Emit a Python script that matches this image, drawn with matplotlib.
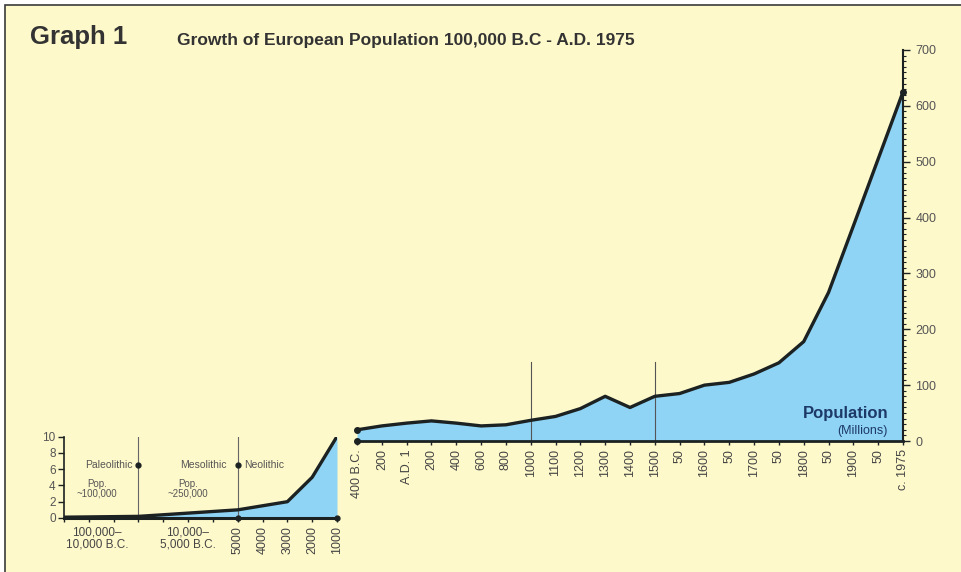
import numpy as np
import matplotlib
matplotlib.use("Agg")
import matplotlib.pyplot as plt
from matplotlib.patches import Rectangle
from matplotlib.ticker import MultipleLocator

plt.rcParams['font.family'] = ['Liberation Sans', 'DejaVu Sans']

# main chart: 400 B.C. - 1975, population in millions
main_labels = ["400 B.C.", "200", "A.D. 1", "200", "400", "600", "800", "1000",
               "1100", "1200", "1300", "1400", "1500", "50", "1600", "50",
               "1700", "50", "1800", "50", "1900", "50", "c. 1975"]
main_pop = [20, 27, 32, 36, 32, 27, 29, 37, 44, 58, 80, 60, 80, 85,
            100, 105, 120, 140, 178, 266, 385, 505, 625]
main_marks = ["1000", "1500"]

# prehistoric inset: year (negative = B.C.), population in millions
early_years = [-100000, -10000, -5000, -4000, -3000, -2000, -1000]
early_pop = [0.1, 0.2, 1.0, 1.5, 2.0, 5.0, 10.0]
early_ticks = ["5000", "4000", "3000", "2000", "1000"]

BG = '#fef9ca'
FILL = '#8fd3f5'
LINE = '#1c2222'
TXT = '#555555'

fig = plt.figure(figsize=(9.62, 5.72), dpi=100)
fig.patch.set_facecolor('white')
fig.patches.append(Rectangle((5/962, -0.02), 1.05, 1 - 5/572 + 0.02,
                             transform=fig.transFigure, facecolor=BG,
                             edgecolor='#3a3a3a', lw=1.2, zorder=-10))

fig.text(30/962, 1 - 37/572, "Graph 1", fontsize=18.5, fontweight='bold',
         color='#333333', va='center')
fig.text(177/962, 1 - 40/572, "Growth of European Population 100,000 B.C - A.D. 1975",
         fontsize=12.5, fontweight='bold', color='#333333', va='center')

# ---- main chart ----
ax = fig.add_axes([357/962, 1 - 441/572, (903 - 357)/962, (441 - 50)/572])
ax.set_facecolor('none')
x = np.arange(len(main_labels))
ax.fill_between(x, main_pop, color=FILL, lw=0)
ax.plot(x, main_pop, color=LINE, lw=2.4, solid_joinstyle='round', zorder=3)
ax.plot([0, 0], [main_pop[0], 0], 'o', ms=4, color=LINE, clip_on=False, zorder=4)
ax.plot([x[-1]], [main_pop[-1]], 'o', ms=4, color=LINE, clip_on=False, zorder=4)
for m in main_marks:
    i = main_labels.index(m)
    ax.plot([i, i], [0, 141], color='#555555', lw=0.8, zorder=2)
ax.set_xlim(0, len(main_labels) - 1)
ax.set_ylim(0, 700)
for s in ['left', 'top']:
    ax.spines[s].set_visible(False)
ax.spines['bottom'].set_linewidth(2)
ax.spines['bottom'].set_color(LINE)
ax.spines['right'].set_linewidth(1.5)
ax.spines['right'].set_color(LINE)
ax.yaxis.tick_right()
ax.yaxis.set_major_locator(MultipleLocator(100))
ax.yaxis.set_minor_locator(MultipleLocator(10))
ax.tick_params(axis='y', which='major', length=5, width=1, color=LINE,
               labelsize=9, labelcolor=TXT, pad=4)
ax.tick_params(axis='y', which='minor', length=2.5, width=0.8, color=LINE)
ax.set_xticks(x)
ax.set_xticklabels(main_labels, rotation=90, fontsize=9, color='#444444')
ax.tick_params(axis='x', length=3, width=1, color=LINE, pad=3)
ax.text(21.4, 41, "Population", fontsize=12, fontweight='bold', color='#1d3a66',
        ha='right', va='baseline', zorder=5)
ax.text(21.4, 13, "(Millions)", fontsize=9, color='#1d3a66',
        ha='right', va='baseline', zorder=5)

# ---- prehistoric inset ----
seg_years = [-100000, -10000, -5000, -1000]
seg_slots = [0, 3, 7, 11]


def fwd(v):
    return np.interp(v, seg_years, seg_slots)


def inv(v):
    return np.interp(v, seg_slots, seg_years)


ax2 = fig.add_axes([64/962, 1 - 518/572, (337 - 64)/962, (518 - 436.5)/572])
ax2.set_facecolor('none')
ax2.set_xscale('function', functions=(fwd, inv))
ax2.fill_between(early_years, early_pop, color=FILL, lw=0)
ax2.plot(early_years, early_pop, color=LINE, lw=2.4, solid_joinstyle='round', zorder=3)
ax2.set_xlim(early_years[0], early_years[-1])
ax2.set_ylim(0, 10)
for s in ['right', 'top']:
    ax2.spines[s].set_visible(False)
ax2.spines['bottom'].set_linewidth(2.2)
ax2.spines['bottom'].set_color(LINE)
ax2.spines['left'].set_linewidth(1.2)
ax2.spines['left'].set_color(LINE)
ax2.set_yticks([0, 2, 4, 6, 8, 10])
ax2.tick_params(axis='y', length=4, width=1, color=LINE, labelsize=8.5,
                labelcolor=TXT, pad=2)
tick_years = inv(np.arange(12))
ax2.set_xticks(tick_years)
ax2.set_xticklabels([""] * 7 + early_ticks, rotation=90, fontsize=9, color='#444444')
ax2.tick_params(axis='x', length=3, width=1, color=LINE, pad=3)
for yr in [-10000, -5000]:
    ax2.plot([yr, yr], [0, 10], color='#666666', lw=0.8, zorder=2)
    ax2.plot([yr], [6.5], 'o', ms=3.5, color=LINE, zorder=4)
ax2.plot([-5000, -1000], [0, 0], 'o', ms=3.5, color=LINE, clip_on=False, zorder=4)

ax2.text(0.253, 6.5, "Paleolithic", transform=ax2.get_yaxis_transform(),
         fontsize=7.5, color=TXT, ha='right', va='center')
ax2.text(0.121, 3.6, "Pop.\n~100,000", transform=ax2.get_yaxis_transform(),
         fontsize=7, color=TXT, ha='center', va='center', linespacing=1.0)
ax2.text(0.597, 6.5, "Mesolithic", transform=ax2.get_yaxis_transform(),
         fontsize=7.5, color=TXT, ha='right', va='center')
ax2.text(0.454, 3.6, "Pop.\n~250,000", transform=ax2.get_yaxis_transform(),
         fontsize=7, color=TXT, ha='center', va='center', linespacing=1.0)
ax2.text(0.66, 6.5, "Neolithic", transform=ax2.get_yaxis_transform(),
         fontsize=7.5, color=TXT, ha='left', va='center')
ax2.text(0.121, -0.1, "100,000\u2013\n10,000 B.C.", transform=ax2.transAxes,
         fontsize=8.5, color='#444444', ha='center', va='top', linespacing=1.0)
ax2.text(0.454, -0.1, "10,000\u2013\n5,000 B.C.", transform=ax2.transAxes,
         fontsize=8.5, color='#444444', ha='center', va='top', linespacing=1.0)

fig.savefig("out.png", dpi=100, facecolor=fig.get_facecolor())
